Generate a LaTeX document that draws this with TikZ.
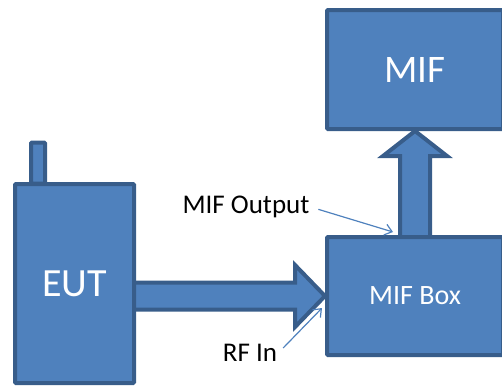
\documentclass[tikz,border=0pt]{standalone}
\usepackage{fontspec}
\setmainfont{Carlito}
\usetikzlibrary{arrows.meta, calc, backgrounds}
\definecolor{boxblue}{HTML}{4F81BD}
\definecolor{edgeblue}{HTML}{385D8A}
\tikzset{
  unitbox/.style={draw=edgeblue, fill=boxblue, line width=4pt, text=white, inner sep=0pt, rounded corners=1pt},
  blockarrow/.style={draw=edgeblue, fill=boxblue, line width=4pt, line join=miter},
  pointer/.style={draw=boxblue, line width=1.2pt, -{Straight Barb[length=7pt,width=11pt]}},
  tag/.style={font=\fontsize{27}{32}\selectfont, inner sep=1pt}
}

\begin{document}
\begin{tikzpicture}[x=1pt, y=-1pt]
\useasboundingbox (0,0) rectangle (502,389);

    % Antenna and EUT
    \node[unitbox, minimum width=14pt, minimum height=41pt] (antenna) at (38,163) {};
    \node[unitbox, minimum width=119pt, minimum height=199pt, font=\fontsize{40}{48}\selectfont] (eut) at (74.5,283.5) {EUT};

    % MIF and MIF Box
    \node[unitbox, minimum width=176pt, minimum height=119pt, font=\fontsize{39}{46}\selectfont] (mif) at (415,69.5) {MIF};
    \node[unitbox, minimum width=176pt, minimum height=118pt, font=\fontsize{28}{34}\selectfont] (mifbox) at (415,296) {MIF Box};

    % Block arrows, behind the boxes
    \coordinate (rftail) at (eut.east |- mifbox.west);
    \coordinate (outtail) at (mif.south |- mifbox.north);
    \begin{scope}[on background layer]
    \draw[blockarrow] ($(rftail)+(-4,-13.5)$) -- ($(mifbox.west)+(-30,-13.5)$) -- ($(mifbox.west)+(-30,-31)$) -- (mifbox.west)
        -- ($(mifbox.west)+(-30,31)$) -- ($(mifbox.west)+(-30,13.5)$) -- ($(rftail)+(-4,13.5)$) -- cycle;
    \draw[blockarrow] ($(outtail)+(-15,4)$) -- ($(mif.south)+(-15,25)$) -- ($(mif.south)+(-32,25)$) -- (mif.south)
        -- ($(mif.south)+(32,25)$) -- ($(mif.south)+(15,25)$) -- ($(outtail)+(15,4)$) -- cycle;
    \end{scope}

    % Labels with pointers
    \node[tag] (mifout) at (246,207) {MIF Output};
    \coordinate (mifoutend) at (393,232);
    \draw[pointer, shorten <=8pt] (mifout.east) -- (mifoutend);

    \node[tag] (rfin) at (250,353) {RF In};
    \coordinate (rfinend) at (322,308);
    \draw[pointer, shorten <=7pt] (rfin.east) -- (rfinend);

\end{tikzpicture}
\end{document}
